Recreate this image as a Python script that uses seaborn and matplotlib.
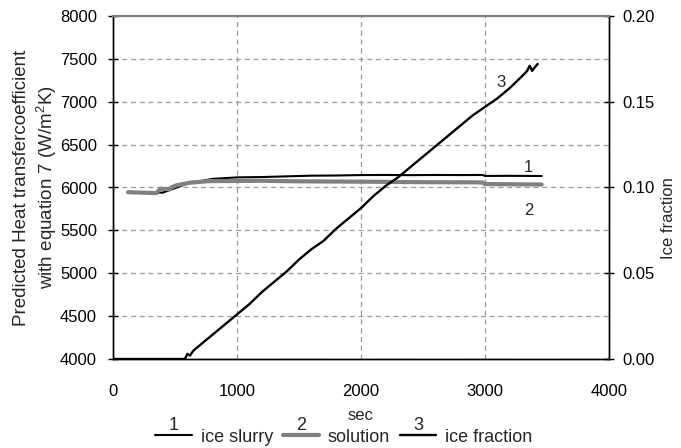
import matplotlib
matplotlib.use("Agg")
import matplotlib.pyplot as plt
import seaborn as sns
import pandas as pd

# ---- data ----
slurry_t = [130, 400, 600, 800, 1000, 1200, 1400, 1600, 1800, 2000, 2200, 2400,
            2600, 2800, 2980, 3000, 3200, 3457]
slurry_v = [5945, 5940, 6045, 6100, 6118, 6122, 6130, 6138, 6140, 6145, 6146, 6144,
            6146, 6145, 6146, 6135, 6136, 6134]

solution_t = [121, 350, 380, 460, 470, 514, 620, 780, 1000, 1200, 1500, 2000,
              2500, 2900, 2980, 3000, 3200, 3457]
solution_v = [5945, 5935, 5985, 5980, 6000, 6027, 6056, 6075, 6076, 6078, 6072, 6068,
              6062, 6060, 6058, 6040, 6038, 6035]

ice_t = [0, 570, 580, 600, 620, 650, 700, 800, 900, 1000, 1100, 1200, 1300, 1400,
         1500, 1600, 1700, 1800, 1900, 2000, 2100, 2200, 2300, 2400, 2500, 2600,
         2700, 2800, 2900, 3000, 3100, 3200, 3300, 3340, 3360, 3380, 3400, 3425]
ice_v = [0.0, 0.0, 0.0, 0.003, 0.002, 0.005, 0.008, 0.014, 0.020, 0.026, 0.032,
         0.039, 0.045, 0.051, 0.058, 0.064, 0.069, 0.076, 0.082, 0.088, 0.095,
         0.101, 0.106, 0.112, 0.118, 0.124, 0.130, 0.136, 0.142, 0.147, 0.152,
         0.158, 0.165, 0.168, 0.171, 0.168, 0.170, 0.172]

series_labels = ["ice slurry", "solution", "ice fraction"]
series_numbers = ["1", "2", "3"]

x_ticks = [0, 1000, 2000, 3000, 4000]
y_ticks = list(range(4000, 8001, 500))
y2_ticks = [0.0, 0.05, 0.10, 0.15, 0.20]

sns.set_style("white")
plt.rcParams["font.family"] = ["Liberation Sans", "DejaVu Sans"]
plt.rcParams["mathtext.fontset"] = "custom"
plt.rcParams["mathtext.rm"] = "Liberation Sans"
plt.rcParams["mathtext.it"] = "Liberation Sans:italic"

FS = 12
LFS = 13
fig = plt.figure(figsize=(6.81, 4.48), dpi=100)
ax = fig.add_axes([113 / 681, 1 - 359 / 448, 496 / 681, 343 / 448])
ax2 = ax.twinx()

df1 = pd.DataFrame({"t": slurry_t, "v": slurry_v})
df2 = pd.DataFrame({"t": solution_t, "v": solution_v})
df3 = pd.DataFrame({"t": ice_t, "v": ice_v})

sns.lineplot(data=df1, x="t", y="v", ax=ax, color="black", linewidth=1.5,
             label=series_labels[0], legend=False, zorder=3)
sns.lineplot(data=df2, x="t", y="v", ax=ax, color="#808080", linewidth=3.0,
             label=series_labels[1], legend=False, zorder=4)
sns.lineplot(data=df3, x="t", y="v", ax=ax2, color="black", linewidth=1.7,
             label=series_labels[2], legend=False, zorder=5)

ax.set_xlim(0, 4000)
ax.set_ylim(4000, 8000)
ax2.set_ylim(0, 0.2)
ax.set_xticks(x_ticks)
ax.set_yticks(y_ticks)
ax2.set_yticks(y2_ticks)
ax2.set_yticklabels([f"{v:.2f}" for v in y2_ticks])

ax.grid(True, color="#9a9a9a", linestyle=(0, (4, 3)), linewidth=0.9)
ax.set_axisbelow(True)

for a in (ax, ax2):
    for s in ("left", "right", "bottom"):
        a.spines[s].set_color("black")
        a.spines[s].set_linewidth(1.0)
    a.spines["top"].set_color("#808080")
    a.spines["top"].set_linewidth(1.5)

ax.tick_params(axis="x", direction="out", length=5, width=1, pad=13,
               labelsize=FS, colors="black")
ax.tick_params(axis="y", direction="inout", length=7, width=1, pad=8,
               labelsize=FS, colors="black")
ax2.tick_params(axis="y", direction="inout", length=7, width=1, pad=6,
                labelsize=FS, colors="black")

ax.set_xlabel("sec", fontsize=FS)
ax.xaxis.set_label_coords(0.5, -0.143)
ax.set_ylabel("Predicted Heat transfercoefficient\nwith equation 7 (W/m$^2$K)",
              fontsize=13.5, linespacing=1.3)
ax.yaxis.set_label_coords(-0.108, 0.5)
ax2.set_ylabel("Ice fraction", fontsize=FS)
ax2.yaxis.set_label_coords(1.105, 0.41)

# in-plot series numbers
ax.text(3350, 6230, "1", fontsize=FS, ha="center", va="center")
ax.text(3350, 5730, "2", fontsize=FS, ha="center", va="center")
ax.text(3130, 7230, "3", fontsize=FS, ha="center", va="center")

# legend below
handles = [ax.lines[0], ax.lines[1], ax2.lines[0]]
leg = fig.legend(handles, series_labels, loc="center",
                 bbox_to_anchor=(0.505, 1 - 437 / 448), ncol=3, frameon=False,
                 fontsize=LFS, handlelength=2.0, handletextpad=0.5,
                 columnspacing=0.55, borderaxespad=0, borderpad=0)
fig.canvas.draw()
r = fig.canvas.get_renderer()
inv = fig.transFigure.inverted()
for ln, num in zip(leg.get_lines(), series_numbers):
    bb = ln.get_window_extent(r)
    cx = (bb.x0 + bb.x1) / 2
    cy = (bb.y0 + bb.y1) / 2
    fx, fy = inv.transform((cx, cy + 10))
    fig.text(fx, fy, num, fontsize=LFS, ha="center", va="center")

fig.savefig("out.png", dpi=100)
